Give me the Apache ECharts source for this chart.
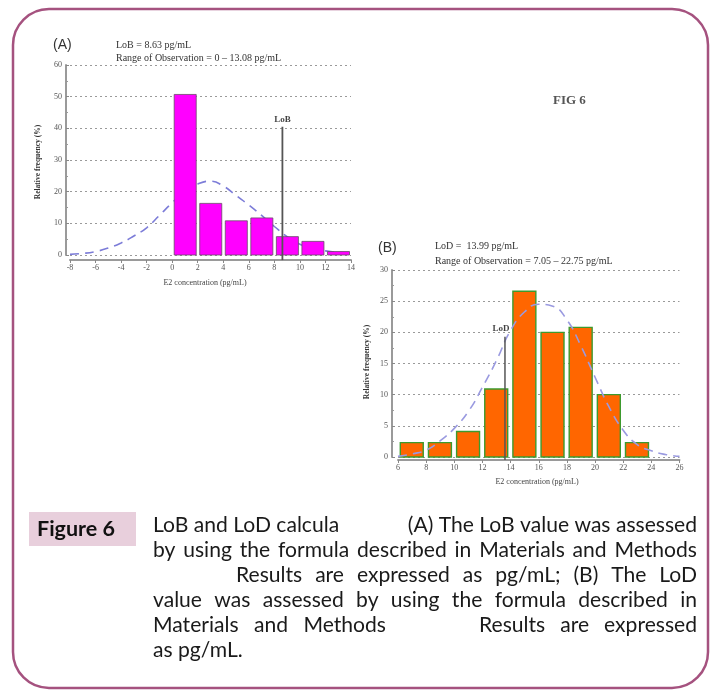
<!DOCTYPE html>
<html><head><meta charset="utf-8">
<script src="https://cdn.jsdelivr.net/npm/echarts@6/dist/echarts.min.js"></script>
<style>html,body{margin:0;padding:0;background:#fff}#c{width:717px;height:690px}</style>
</head><body><div id="c"></div>
<script>
// ---------- Panel A data ----------
const binStartA = [0, 2, 4, 6, 8, 10, 12];
const binWidthA = 2;
const freqA = [50.7, 16.3, 10.8, 11.7, 5.8, 4.3, 1.1];
const curveXA = [-8, -7, -6, -5, -4, -3, -2, -1, 0, 1, 2, 3, 4, 5, 6, 7, 8, 9, 10, 11, 12, 13, 14];
const curveYA = [0.2, 0.5, 1.1, 2.2, 3.8, 6.0, 8.6, 12.5, 16.5, 20.0, 22.4, 23.3, 21.8, 18.8, 15.8, 12.5, 9.0, 5.8, 3.4, 2.0, 1.3, 0.8, 0.5];
const lobValue = 8.63;
const lobTop = 40.5;
const ticksXA = [-8, -6, -4, -2, 0, 2, 4, 6, 8, 10, 12, 14];
const ticksYA = [0, 10, 20, 30, 40, 50, 60];

// ---------- Panel B data ----------
const binStartB = [6, 8, 10, 12, 14, 16, 18, 20, 22];
const binWidthB = 2;
const freqB = [2.3, 2.3, 4.1, 10.9, 26.6, 20.0, 20.8, 10.0, 2.3];
const curveXB = [6, 7, 8, 9, 10, 11, 12, 13, 14, 15, 16, 17, 18, 19, 20, 21, 22, 23, 24, 25, 26];
const curveYB = [0.1, 0.5, 1.1, 2.6, 4.6, 7.3, 11.2, 15.5, 20.3, 23.3, 24.5, 24.2, 22.0, 17.8, 12.8, 8.0, 4.3, 2.0, 1.0, 0.4, 0.1];
const lodPos = 13.6;
const lodTop = 19.3;
const ticksXB = [6, 8, 10, 12, 14, 16, 18, 20, 22, 24, 26];
const ticksYB = [0, 5, 10, 15, 20, 25, 30];

const chart = echarts.init(document.getElementById('c'), null, {renderer: 'canvas'});
const SERIF = '"Liberation Serif", "DejaVu Serif", serif';

function barRender(fill, stroke, lw, insL, insR) {
  return function (params, api) {
    const x0 = api.value(0), x1 = api.value(1), v = api.value(2);
    const p0 = api.coord([x0, v]);
    const p1 = api.coord([x1, 0]);
    return {
      type: 'rect',
      shape: {x: p0[0] + insL, y: p0[1], width: p1[0] - p0[0] - insL - insR, height: p1[1] - p0[1]},
      style: {fill: fill, stroke: stroke, lineWidth: lw}
    };
  };
}

function xAxisCfg(gi, ticks, off) {
  return {
    type: 'value', gridIndex: gi, min: ticks[0], max: ticks[ticks.length - 1],
    interval: ticks[1] - ticks[0], offset: off,
    axisLine: {show: true, onZero: false, lineStyle: {color: '#9a9a9a', width: 2}},
    axisTick: {show: true, length: 3, lineStyle: {color: '#888'}},
    axisLabel: {fontSize: 8, color: '#555', fontFamily: SERIF, margin: 4},
    splitLine: {show: false}
  };
}
function yAxisCfg(gi, ticks, off) {
  return {
    type: 'value', gridIndex: gi, min: ticks[0], max: ticks[ticks.length - 1],
    interval: ticks[1] - ticks[0], offset: off,
    axisLine: {show: true, onZero: false, lineStyle: {color: '#9a9a9a', width: 2}},
    axisTick: {show: true, inside: true, length: 3, lineStyle: {color: '#888'}},
    minorTick: {show: true, splitNumber: 2, length: 2, lineStyle: {color: '#999'}},
    axisLabel: {fontSize: 8, color: '#555', fontFamily: SERIF, margin: 4},
    splitLine: {show: true, lineStyle: {color: '#9a9a9a', type: [2, 3], width: 1}}
  };
}

const barsA = binStartA.map((s, i) => [s, s + binWidthA, freqA[i]]);
const barsB = binStartB.map((s, i) => [s, s + binWidthB, freqB[i]]);
const curveA = curveXA.map((x, i) => [x, curveYA[i]]);
const curveB = curveXB.map((x, i) => [x, curveYB[i]]);

// caption text lines (layout only)
const capFont = 'Lato, "Open Sans", sans-serif';
const ctx = document.createElement('canvas').getContext('2d');
function measure(t, size) { ctx.font = size + 'px ' + capFont; return ctx.measureText(t).width; }
const refLine = 'by using the formula described in Materials and Methods';
let capSize = 100 * 526 / measure(refLine, 100);
capSize = Math.round(capSize * 10) / 10;

const capLines = [
  {y: 525, segs: [{t: 'LoB and LoD calcula', x0: 153}, {t: '(A) The LoB value was assessed', x0: 424, x1: 697}]},
  {y: 550, segs: [{t: 'by using the formula described in Materials and Methods', x0: 153, x1: 697}]},
  {y: 575, segs: [{t: 'Results are expressed as pg/mL; (B) The LoD', x0: 236, x1: 697}]},
  {y: 600, segs: [{t: 'value was assessed by using the formula described in', x0: 153, x1: 697}]},
  {y: 625, segs: [{t: 'Materials and Methods', x0: 153, x1: 386}, {t: 'Results are expressed', x0: 479, x1: 697}]},
  {y: 650, segs: [{t: 'as pg/mL.', x0: 153}]}
];
const capGraphics = [];
const spaceW = measure(' ', capSize);
capLines.forEach(line => {
  line.segs.forEach(seg => {
    if (seg.x1 === undefined) {
      capGraphics.push({type: 'text', x: seg.x0, y: line.y, style: {text: seg.t, font: capSize + 'px ' + capFont, fill: '#1a1a1a', textAlign: 'left', textVerticalAlign: 'middle'}});
      return;
    }
    const words = seg.t.split(' ');
    const ws = words.map(w => measure(w, capSize));
    const total = ws.reduce((a, b) => a + b, 0);
    let gap = words.length > 1 ? (seg.x1 - seg.x0 - total) / (words.length - 1) : 0;
    let x = seg.x0;
    if (gap < spaceW) {
      gap = spaceW;
      x = seg.x1 - total - gap * (words.length - 1);
    }
    words.forEach((w, i) => {
      capGraphics.push({type: 'text', x: x, y: line.y, style: {text: w, font: capSize + 'px ' + capFont, fill: '#1a1a1a', textAlign: 'left', textVerticalAlign: 'middle'}});
      x += ws[i] + gap;
    });
  });
});

function txt(x, y, t, font, fill, align, rot) {
  const g = {type: 'text', x: x, y: y, style: {text: t, font: font, fill: fill || '#222', textAlign: align || 'left', textVerticalAlign: 'middle'}};
  if (rot) { g.rotation = rot; }
  return g;
}

const option = {
  animation: false,
  backgroundColor: '#ffffff',
  grid: [
    {left: 70, top: 65, width: 281, height: 190, containLabel: false},
    {left: 398, top: 270, width: 281.5, height: 187, containLabel: false}
  ],
  xAxis: [xAxisCfg(0, ticksXA, 5), xAxisCfg(1, ticksXB, 3)],
  yAxis: [yAxisCfg(0, ticksYA, 4), yAxisCfg(1, ticksYB, 6)],
  series: [
    {type: 'line', xAxisIndex: 0, yAxisIndex: 0, data: curveA, smooth: true, symbol: 'none', z: 1,
     lineStyle: {color: '#7c7cd8', width: 1.6, type: [9, 6]}},
    {type: 'custom', xAxisIndex: 0, yAxisIndex: 0, data: barsA, renderItem: barRender('#ff00ff', '#6a4a6a', 0.8, 2, 1.5),
     encode: {x: [0, 1], y: 2}, z: 2},
    {type: 'line', xAxisIndex: 0, yAxisIndex: 0, data: [[lobValue, -1.6], [lobValue, lobTop]], symbol: 'none', clip: false, z: 3,
     lineStyle: {color: '#555', width: 1.8}},
    {type: 'scatter', xAxisIndex: 0, yAxisIndex: 0, data: [[lobValue, lobTop]], symbolSize: 1, itemStyle: {color: 'transparent'}, z: 4,
     label: {show: true, position: 'top', distance: 2, formatter: 'LoB', fontFamily: SERIF, fontWeight: 'bold', fontSize: 9, color: '#111'}},

    {type: 'custom', xAxisIndex: 1, yAxisIndex: 1, data: barsB, renderItem: barRender('#ff6600', '#3d9a2e', 1.4, 2.3, 2.9),
     encode: {x: [0, 1], y: 2}, z: 2},
    {type: 'line', xAxisIndex: 1, yAxisIndex: 1, data: curveB, smooth: true, symbol: 'none', z: 3,
     lineStyle: {color: '#9a9ae0', width: 1.6, type: [9, 6]}},
    {type: 'line', xAxisIndex: 1, yAxisIndex: 1, data: [[lodPos, -0.5], [lodPos, lodTop]], symbol: 'none', clip: false, z: 4,
     lineStyle: {color: '#555', width: 1.5}},
    {type: 'scatter', xAxisIndex: 1, yAxisIndex: 1, data: [[lodPos, lodTop]], symbolSize: 1, itemStyle: {color: 'transparent'}, z: 5,
     label: {show: true, position: 'top', distance: 3, offset: [-4, 0], formatter: 'LoD', fontFamily: SERIF, fontWeight: 'bold', fontSize: 9, color: '#111'}}
  ],
  graphic: [
    {type: 'rect', shape: {x: 13, y: 9, width: 695, height: 679, r: 36}, style: {fill: 'none', stroke: '#a5527f', lineWidth: 2.5}, z: 0},
    txt(53, 45, '(A)', '14px "Liberation Sans", Arial, sans-serif', '#333'),
    txt(116, 45, 'LoB = 8.63 pg/mL', '10px ' + SERIF, '#333'),
    txt(116, 58, 'Range of Observation = 0 \u2013 13.08 pg/mL', '10px ' + SERIF, '#333'),
    txt(38, 162, 'Relative frequency (%)', 'bold 7.5px ' + SERIF, '#333', 'center', Math.PI / 2),
    txt(205, 283, 'E2 concentration (pg/mL)', '8px ' + SERIF, '#444', 'center'),
    txt(553, 101, 'FIG 6', 'bold 13px ' + SERIF, '#555'),
    txt(378, 248, '(B)', '14px "Liberation Sans", Arial, sans-serif', '#333'),
    txt(435, 246, 'LoD =  13.99 pg/mL', '10px ' + SERIF, '#333'),
    txt(435, 261, 'Range of Observation = 7.05 \u2013 22.75 pg/mL', '10px ' + SERIF, '#333'),
    txt(367, 362, 'Relative frequency (%)', 'bold 7.5px ' + SERIF, '#333', 'center', Math.PI / 2),
    txt(537, 482, 'E2 concentration (pg/mL)', '8px ' + SERIF, '#444', 'center'),
    {type: 'rect', shape: {x: 29, y: 512, width: 107, height: 34}, style: {fill: '#e8cfdc'}},
    txt(37, 529, 'Figure 6', 'bold 21.5px Lato, "Open Sans", sans-serif', '#111')
  ].concat(capGraphics)
};
chart.setOption(option);
</script>
</body></html>
